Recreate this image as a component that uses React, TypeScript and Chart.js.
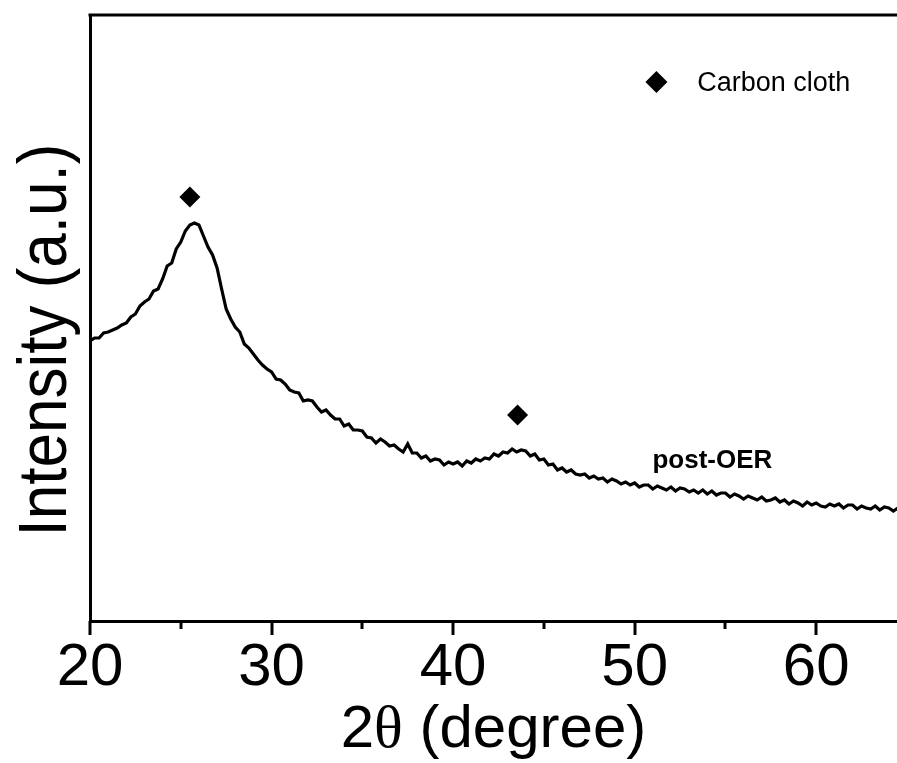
import { useEffect, useRef } from "react";
import { Chart, registerables } from "chart.js";

Chart.register(...registerables);

// 2θ sampling grid (degrees)
const ANGLE_START = 20;
const ANGLE_STEP = 0.25;

// post-OER XRD intensity (a.u.), one row per degree: 20.00, 20.25, 20.50, 20.75, ...
const INTENSITY: number[] = [
  280, 283, 283, 288, // 20
  289, 291, 293, 296, // 21
  298, 304, 307, 315, // 22
  319, 322, 330, 332, // 23
  342, 355, 358, 372, // 24
  379, 390, 396, 398, // 25
  396, 385, 374, 366, // 26
  353, 332, 312, 302, // 27
  294, 289, 277, 273, // 28
  267, 261, 256, 252, // 29
  249, 242, 241, 237, // 30
  231, 229, 228, 220, // 31
  221, 220, 214, 209, // 32
  211, 206, 202, 202, // 33
  195, 197, 191, 191, // 34
  190, 184, 183, 178, // 35
  182, 179, 175, 176, // 36
  172, 169, 177, 168, // 37
  168, 163, 165, 160, // 38
  162, 161, 156, 159, // 39
  157, 159, 155, 160, // 40
  158, 162, 160, 163, // 41
  162, 167, 165, 169, // 42
  168, 172, 169, 171, // 43
  170, 165, 167, 161, // 44
  162, 156, 157, 151, // 45
  153, 149, 151, 147, // 46
  146, 147, 143, 145, // 47
  142, 143, 139, 142, // 48
  140, 137, 139, 136, // 49
  138, 134, 136, 136, // 50
  132, 135, 133, 131, // 51
  134, 130, 133, 132, // 52
  129, 131, 128, 131, // 53
  127, 130, 126, 128, // 54
  128, 124, 127, 125, // 55
  122, 125, 123, 121, // 56
  124, 120, 121, 123, // 57
  119, 121, 117, 120, // 58
  118, 115, 119, 116, // 59
  118, 115, 114, 117, // 60
  115, 117, 113, 116, // 61
  116, 112, 115, 113, // 62
  112, 115, 111, 114, // 63
  113, 110, 113,      // 64
];

const X_MIN = 20;
const X_MAX = 64.45;
const Y_MIN = 0;
const Y_MAX = 606;
const X_MAJOR_TICKS = [20, 30, 40, 50, 60];
const X_MINOR_TICKS = [25, 35, 45, 55];

// carbon cloth reflections (diamond markers)
const PEAK_X = [25.5, 43.55];
const PEAK_Y = [424, 206];

const LEGEND_MARK_X = [51.2];
const LEGEND_MARK_Y = [539];
const LEGEND_TEXT = "Carbon cloth";
const LEGEND_TEXT_POS = { x: 53.45, y: 537 };

const SAMPLE_LABEL = "post-OER";
const SAMPLE_LABEL_POS = { x: 50.98, y: 160 };

const X_TITLE_PARTS = ["2", "θ", " (degree)"];
const Y_TITLE = "Intensity (a.u.)";

const SANS = "'Liberation Sans', Arial, Helvetica, sans-serif";
const SERIF = "'Liberation Serif', 'Times New Roman', serif";

export default function App() {
  const canvasRef = useRef<HTMLCanvasElement | null>(null);

  useEffect(() => {
    const canvas = canvasRef.current;
    if (!canvas) return;

    const lineData = INTENSITY.map((v, i) => ({ x: ANGLE_START + i * ANGLE_STEP, y: v }));
    const peakData = PEAK_X.map((x, i) => ({ x, y: PEAK_Y[i] }));
    const legendData = LEGEND_MARK_X.map((x, i) => ({ x, y: LEGEND_MARK_Y[i] }));

    const decor = {
      id: "decor",
      afterDraw(chart: any) {
        const { ctx, chartArea, scales } = chart;
        const xs = scales.x;
        const ys = scales.y;
        ctx.save();
        ctx.strokeStyle = "#000";
        ctx.fillStyle = "#000";
        // top frame line
        ctx.lineWidth = 3;
        ctx.beginPath();
        ctx.moveTo(chartArea.left - 1.5, chartArea.top);
        ctx.lineTo(chartArea.right + 2, chartArea.top);
        ctx.stroke();
        // x ticks
        X_MAJOR_TICKS.forEach((v) => {
          const px = Math.round(xs.getPixelForValue(v));
          ctx.beginPath();
          ctx.moveTo(px, chartArea.bottom);
          ctx.lineTo(px, chartArea.bottom + 14);
          ctx.stroke();
        });
        X_MINOR_TICKS.forEach((v) => {
          const px = Math.round(xs.getPixelForValue(v));
          ctx.beginPath();
          ctx.moveTo(px, chartArea.bottom);
          ctx.lineTo(px, chartArea.bottom + 8);
          ctx.stroke();
        });
        // x title with serif theta
        const fonts = [`60px ${SANS}`, `60px ${SERIF}`, `60px ${SANS}`];
        let total = 0;
        const widths = X_TITLE_PARTS.map((t, i) => {
          ctx.font = fonts[i];
          const w = ctx.measureText(t).width;
          total += w;
          return w;
        });
        let cx = (chartArea.left + chartArea.right) / 2 - total / 2;
        ctx.textBaseline = "alphabetic";
        ctx.textAlign = "left";
        X_TITLE_PARTS.forEach((t, i) => {
          ctx.font = fonts[i];
          ctx.fillText(t, cx, 747);
          cx += widths[i];
        });
        // y title (rotated)
        ctx.save();
        ctx.translate(66, 340);
        ctx.rotate(-Math.PI / 2);
        ctx.scale(1, 1.12);
        ctx.font = `62px ${SANS}`;
        ctx.textAlign = "center";
        ctx.textBaseline = "alphabetic";
        ctx.fillText(Y_TITLE, 0, 0);
        ctx.restore();
        // legend text
        ctx.font = `27px ${SANS}`;
        ctx.textAlign = "left";
        ctx.textBaseline = "middle";
        ctx.fillText(LEGEND_TEXT, xs.getPixelForValue(LEGEND_TEXT_POS.x), ys.getPixelForValue(LEGEND_TEXT_POS.y));
        // sample label
        ctx.font = `bold 26px ${SANS}`;
        ctx.fillText(SAMPLE_LABEL, xs.getPixelForValue(SAMPLE_LABEL_POS.x), ys.getPixelForValue(SAMPLE_LABEL_POS.y));
        ctx.restore();
      },
    };

    const chart = new Chart(canvas, {
      type: "line",
      data: {
        datasets: [
          {
            label: "post-OER",
            data: lineData,
            borderColor: "#000",
            borderWidth: 3.2,
            pointRadius: 0,
            tension: 0,
            fill: false,
          },
          {
            label: "peaks",
            data: peakData,
            showLine: false,
            pointStyle: "rectRot",
            pointRadius: 10.5,
            backgroundColor: "#000",
            borderColor: "#000",
            borderWidth: 0,
          },
          {
            label: "legend",
            data: legendData,
            showLine: false,
            pointStyle: "rectRot",
            pointRadius: 11,
            backgroundColor: "#000",
            borderColor: "#000",
            borderWidth: 0,
          },
        ],
      },
      options: {
        responsive: false,
        animation: false,
        events: [],
        layout: { autoPadding: false, padding: { top: 15, left: 0, right: 0, bottom: 0 } },
        plugins: {
          legend: { display: false },
          tooltip: { enabled: false },
          title: { display: false },
        },
        scales: {
          x: {
            type: "linear",
            min: X_MIN,
            max: X_MAX,
            afterFit: (s: any) => {
              s.height = 142;
              s.paddingLeft = 0;
              s.paddingRight = 0;
            },
            grid: { display: false, drawTicks: false },
            border: { display: true, color: "#000", width: 3 },
            ticks: {
              stepSize: 10,
              includeBounds: false,
              autoSkip: false,
              maxRotation: 0,
              padding: 11,
              color: "#000",
              font: { family: SANS, size: 60 },
              callback: (v: any) => (X_MAJOR_TICKS.includes(Number(v)) ? String(v) : ""),
            },
          },
          y: {
            type: "linear",
            min: Y_MIN,
            max: Y_MAX,
            afterFit: (s: any) => {
              s.width = 90;
            },
            grid: { display: false, drawTicks: false },
            border: { display: true, color: "#000", width: 3 },
            ticks: { display: false },
            title: { display: false },
          },
        },
      },
      plugins: [decor],
    });

    return () => chart.destroy();
  }, []);

  return (
    <div style={{ position: "absolute", left: 0, top: 0, width: 897, height: 763, background: "#fff" }}>
      <canvas ref={canvasRef} width={897} height={763} style={{ display: "block" }} />
    </div>
  );
}
